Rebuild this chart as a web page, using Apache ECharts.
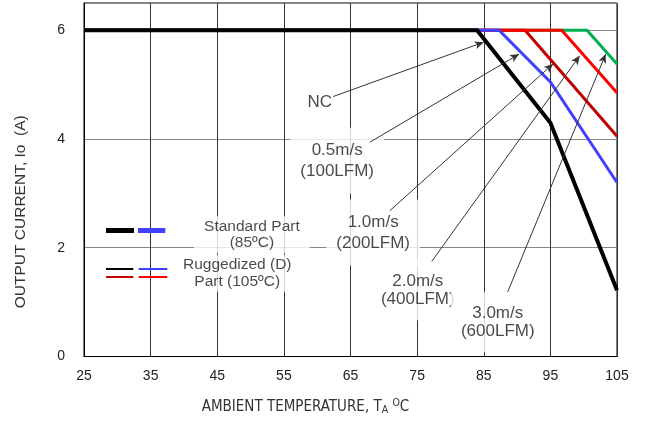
<!DOCTYPE html>
<html>
<head>
<meta charset="utf-8">
<script src="https://cdn.jsdelivr.net/npm/echarts@6/dist/echarts.min.js"></script>
<style>html,body{margin:0;padding:0;background:#fff}#c{width:648px;height:421px}</style>
</head>
<body>
<div id="c"></div>
<script>
// ---- data ----
const xTicks = [25, 35, 45, 55, 65, 75, 85, 95, 105];
const yTicks = [0, 2, 4, 6];

const ncTemp = [25, 84, 95, 105];
const ncCurrent = [6, 6, 4.3, 1.22];
const v05Temp = [25, 87.3, 95, 105];
const v05Current = [6, 6, 5.05, 3.2];
const v10Temp = [25, 91.2, 105];
const v10Current = [6, 6, 4.05];
const v20Temp = [25, 96.7, 105];
const v20Current = [6, 6, 4.85];
const v30Temp = [25, 100.5, 105];
const v30Current = [6, 6, 5.38];

// annotations (data coordinates)
const annoText = ['NC', '0.5m/s\n(100LFM)', '1.0m/s\n(200LFM)', '2.0m/s\n(400LFM)', '3.0m/s\n(600LFM)'];
const annoX = [60.4, 63.0, 68.4, 75.1, 87.1];
const annoY = [4.68, 3.6, 2.28, 1.22, 0.63];
const arrowFromX = [62.4, 67.9, 70.9, 77.2, 88.6];
const arrowFromY = [4.78, 3.94, 2.68, 1.75, 1.19];
const arrowToX = [85.0, 90.3, 95.4, 99.4, 103.3];
const arrowToY = [5.78, 5.56, 5.38, 5.53, 5.56];

// legend key
const legendText = ['Standard Part\n(85ºC)', 'Ruggedized (D)\nPart (105ºC)'];
const legendTextX = [50.2, 48.0];
const legendTextY = [2.24, 1.53];

const C_BLACK = '#000000', C_BLUE = '#4040ff', C_DRED = '#c00000', C_RED = '#ff0000', C_GREEN = '#00b050';

const zip = (a, b) => a.map((v, i) => [v, b[i]]);
const font = '"Liberation Sans", Arial, sans-serif';
const narrow = '"Liberation Sans Narrow", "Arial Narrow", "DejaVu Sans Condensed", sans-serif';

function lineSeries(name, t, c, color, width) {
  return {
    name, type: 'line', data: zip(t, c), symbol: 'none', silent: true,
    lineStyle: { color, width, join: 'miter' }, animation: false
  };
}

const arrows = annoText.map((_, i) => ([
  { coord: [arrowFromX[i], arrowFromY[i]] },
  { coord: [arrowToX[i], arrowToY[i]] }
]));

function seg(x1, x2, y, color, width) {
  return [{ coord: [x1, y], lineStyle: { color, width, type: 'solid' } }, { coord: [x2, y] }];
}

const legendSegs = [
  seg(28.3, 32.5, 2.32, C_BLACK, 5),
  seg(33.1, 37.2, 2.32, C_BLUE, 5),
  seg(28.3, 32.4, 1.62, C_BLACK, 2),
  seg(33.2, 37.5, 1.61, C_BLUE, 2),
  seg(28.3, 32.4, 1.46, C_DRED, 2),
  seg(33.2, 37.5, 1.46, C_RED, 2)
];

const option = {
  animation: false,
  grid: { left: 84, right: 31, top: 3, bottom: 61, show: true, borderColor: '#000', borderWidth: 1, backgroundColor: 'transparent' },
  xAxis: {
    type: 'value', min: 25, max: 105, interval: 10,
    name: '{t|AMBIENT TEMPERATURE, T}{sub|A}{t| }{sup|O}{t|C}',
    nameLocation: 'middle', nameGap: 41,
    nameTextStyle: {
      padding: [0, 90, 0, 0],
      rich: {
        t: { fontFamily: narrow, fontSize: 15, color: '#333' },
        sub: { fontFamily: narrow, fontSize: 10.5, color: '#333', padding: [6, 0, 0, 0] },
        sup: { fontFamily: narrow, fontSize: 10.5, color: '#333', padding: [0, 0, 9, 0] }
      }
    },
    axisLine: { lineStyle: { color: '#000', width: 1 } },
    axisTick: { show: false },
    axisLabel: { fontFamily: font, fontSize: 14, color: '#222', margin: 13 },
    splitLine: { show: true, lineStyle: { color: '#333', width: 1 } }
  },
  yAxis: {
    type: 'value', min: 0, max: 6.5, interval: 2,
    name: 'OUTPUT CURRENT, Io  (A)', nameLocation: 'middle', nameGap: 55, nameRotate: 90,
    nameTextStyle: { fontFamily: font, fontSize: 15.5, color: '#333', padding: [0, 64, 0, 0] },
    axisLine: { lineStyle: { color: '#000', width: 1 } },
    axisTick: { show: false },
    axisLabel: { fontFamily: font, fontSize: 14, color: '#222', margin: 19, showMaxLabel: false,
      formatter: v => (yTicks.indexOf(v) >= 0 ? String(v) : '') },
    splitLine: { show: true, lineStyle: { color: '#888', width: 1 } }
  },
  series: [
    lineSeries('3.0m/s', v30Temp, v30Current, C_GREEN, 3),
    lineSeries('1.0m/s', v10Temp, v10Current, C_DRED, 3),
    lineSeries('2.0m/s', v20Temp, v20Current, C_RED, 3),
    lineSeries('0.5m/s', v05Temp, v05Current, C_BLUE, 3),
    lineSeries('NC', ncTemp, ncCurrent, C_BLACK, 4),
    {
      name: 'annotations', type: 'scatter', symbolSize: 0, silent: true, z: 3,
      data: annoText.map((t, i) => ({ value: [annoX[i], annoY[i]], label: { formatter: t, lineHeight: i >= 3 ? 18 : 21 } })),
      label: {
        show: true, position: 'inside', fontFamily: font, fontSize: 17, lineHeight: 21,
        color: '#1a1a1a', backgroundColor: '#fff', padding: [12, 10], align: 'center'
      },
      markLine: {
        silent: true, animation: false, symbol: ['none', 'arrow'], symbolSize: [6, 9],
        label: { show: false },
        lineStyle: { color: '#333', width: 1, type: 'solid' },
        data: arrows
      }
    },
    {
      name: 'legendKey', type: 'scatter', symbolSize: 0, silent: true, z: 3,
      data: legendText.map((t, i) => ({ value: [legendTextX[i], legendTextY[i]], label: { formatter: t } })),
      label: {
        show: true, position: 'inside', fontFamily: font, fontSize: 15.5, lineHeight: 16.5,
        color: '#1a1a1a', backgroundColor: '#fff', padding: [2, 10], align: 'center'
      },
      markLine: {
        silent: true, animation: false, symbol: ['none', 'none'],
        label: { show: false },
        data: legendSegs
      }
    }
  ]
};

const chart = echarts.init(document.getElementById('c'), null, { renderer: 'canvas' });
chart.setOption(option);
</script>
</body>
</html>
